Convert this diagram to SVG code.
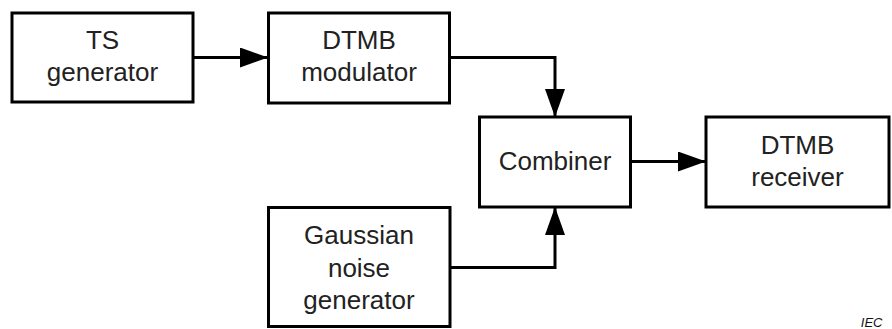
<svg xmlns="http://www.w3.org/2000/svg" width="892" height="329" viewBox="0 0 892 329">
  <defs>
    <marker id="arrow" viewBox="0 0 28 20" refX="28" refY="10" markerWidth="28" markerHeight="20" markerUnits="userSpaceOnUse" orient="auto">
      <path d="M0,0 L28,10 L0,20 Z" fill="#000"/>
    </marker>
  </defs>
  <style>
    .box { fill: #fff; stroke: #000; stroke-width: 3; }
    .lbl { font-family: "Liberation Sans", Arial, sans-serif; font-size: 26px; fill: #222; text-anchor: middle; }
    .wire { fill: none; stroke: #000; stroke-width: 3; }
    .note { font-family: "Liberation Sans", Arial, sans-serif; font-size: 13px; font-style: italic; fill: #111; text-anchor: end; }
  </style>
  <rect width="892" height="329" fill="#fff"/>

  <g id="connectors">
    <path class="wire" d="M193,57.5 H268" marker-end="url(#arrow)"/>
    <path class="wire" d="M449,57.5 H555 V117" marker-end="url(#arrow)"/>
    <path class="wire" d="M450,267.5 H555 V207" marker-end="url(#arrow)"/>
    <path class="wire" d="M631,161.5 H706" marker-end="url(#arrow)"/>
  </g>

  <g id="ts-generator">
    <rect class="box" x="12" y="13" width="181" height="89"/>
    <text class="lbl" x="102.5" y="49">TS</text>
    <text class="lbl" x="102.5" y="81">generator</text>
  </g>

  <g id="dtmb-modulator">
    <rect class="box" x="268.5" y="13" width="181" height="90"/>
    <text class="lbl" x="359" y="49">DTMB</text>
    <text class="lbl" x="359" y="81">modulator</text>
  </g>

  <g id="combiner">
    <rect class="box" x="479.5" y="117" width="151" height="90"/>
    <text class="lbl" x="555" y="170">Combiner</text>
  </g>

  <g id="dtmb-receiver">
    <rect class="box" x="706" y="117" width="183" height="90"/>
    <text class="lbl" x="797.5" y="154">DTMB</text>
    <text class="lbl" x="797.5" y="186">receiver</text>
  </g>

  <g id="gaussian-noise-generator">
    <rect class="box" x="268.5" y="207.5" width="181.5" height="119"/>
    <text class="lbl" x="359" y="244">Gaussian</text>
    <text class="lbl" x="359" y="276.5">noise</text>
    <text class="lbl" x="359" y="309">generator</text>
  </g>

  <text class="note" x="882.5" y="326.5">IEC</text>
</svg>
